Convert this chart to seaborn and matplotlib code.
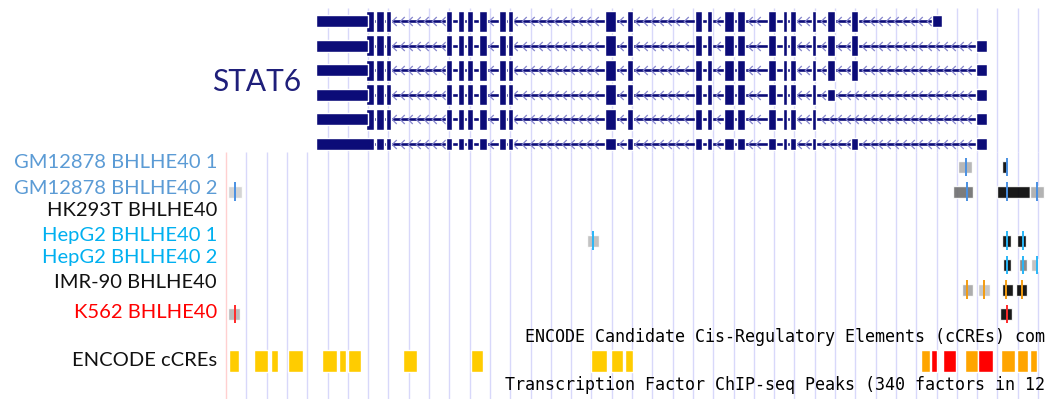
import numpy as np
import pandas as pd
import matplotlib
matplotlib.use("Agg")
import matplotlib.pyplot as plt
from matplotlib.path import Path
import seaborn as sns

# ---- data (x in track pixels) ----
tx_start = [317, 317, 317, 317, 317, 317]
tx_end = [941, 986, 986, 986, 986, 986]

shared_exons = [(377, 383), (387, 390), (447, 451), (459, 463), (468, 472),
                (480, 486), (500, 505), (509, 512), (606, 615), (628, 632),
                (696, 701), (708, 711), (725, 733), (738, 744), (769, 775),
                (784, 786), (791, 795), (813, 815)]

tx_cds = [
    [(367, 373)] + shared_exons + [(828, 834), (852, 857)],
    [(367, 373)] + shared_exons + [(828, 834), (852, 857)],
    [(367, 373)] + shared_exons + [(828, 834), (852, 857)],
    [(367, 373)] + shared_exons,
    [(367, 373)] + shared_exons,
    [],
]
tx_utr = [
    [(317, 367), (933, 941)],
    [(317, 367), (977, 986)],
    [(317, 367), (977, 986)],
    [(317, 367), (828, 834), (977, 986)],
    [(317, 367), (977, 986)],
    [(317, 373)] + shared_exons + [(852, 857), (977, 986)],
]

track_labels = ["GM12878 BHLHE40 1", "GM12878 BHLHE40 2", "HK293T BHLHE40",
                "HepG2 BHLHE40 1", "HepG2 BHLHE40 2", "IMR-90 BHLHE40",
                "K562 BHLHE40"]
label_colors = ["#5b9bd5", "#5b9bd5", "#111111", "#00b0f0", "#00b0f0",
                "#111111", "#ff0000"]
summit_colors = ["#4a90e2", "#4a90e2", "#000000", "#29b6f6", "#29b6f6",
                 "#f39c12", "#ff2a2a"]

# peaks: track index, start, end, grey level, summit
peak_track = [0, 0, 1, 1, 1, 1, 3, 3, 3, 4, 4, 4, 5, 5, 5, 5, 6, 6]
peak_start = [958, 1002, 228, 953, 997, 1030, 587, 1002, 1017, 1003, 1019, 1031,
              962, 978, 1002, 1016, 228, 1000]
peak_end = [972, 1007, 242, 973, 1030, 1044, 599, 1011, 1026, 1011, 1027, 1038,
            973, 990, 1013, 1027, 240, 1012]
peak_shade = ["#b0b0b0", "#000000", "#d0d0d0", "#6e6e6e", "#000000", "#ababab",
              "#bcbcbc", "#000000", "#000000", "#000000", "#808080", "#bcbcbc",
              "#a4a4a4", "#c4c4c4", "#000000", "#000000", "#b4b4b4", "#000000"]
peak_summit = [966, 1007, 235, 967, 1007, 1037, 593, 1007, 1023, 1007, 1023, 1037,
               967, 984, 1006, 1022, 235, 1007]

ccre_start = [229, 254, 271, 288, 322, 339, 348, 403, 471, 591, 611, 625,
              921, 931, 943, 965, 978, 1001, 1017, 1030]
ccre_end = [239, 268, 278, 303, 337, 346, 361, 417, 483, 607, 623, 633,
            930, 937, 956, 978, 993, 1015, 1028, 1037]
ccre_class = ["dELS"] * 12 + ["pELS", "PLS", "PLS", "pELS", "PLS",
                              "pELS", "pELS", "pELS"]
ccre_colors = {"dELS": "#ffcc00", "pELS": "#ffa500", "PLS": "#ff0000"}

# ---- layout ----
navy = "#0c0c78"
gene_y0, gene_dy = 21, 24.5
track_y0, track_dy = 167, 24.5
label_y = [162, 188, 210, 236, 258, 283, 312]
ccre_y = 361
pad = 0.7  # the screenshot is slightly blurred, blocks look a bit wider

sns.set_theme(style="white")
plt.rcParams["font.family"] = ["Lato", "DejaVu Sans"]

fig = plt.figure(figsize=(10.56, 3.99), dpi=100)
ax = fig.add_axes([0, 0, 1, 1])
ax.set_xlim(0, 1056)
ax.set_ylim(399, 0)
ax.axis("off")

# browser grid
grid_x = 226 + 20.3 * np.arange(41)
ax.vlines(grid_x[grid_x > 318], 8, 152, color="#d8d8fa", lw=1.0, zorder=0)
ax.vlines(grid_x[1:], 152, 399, color="#d8d8fa", lw=1.0, zorder=0)
ax.vlines(grid_x[0], 152, 399, color="#ffd0d0", lw=1.0, zorder=0)

# gene models
chev = Path([(0.5, 1), (-0.5, 0), (0.5, -1)],
            [Path.MOVETO, Path.LINETO, Path.LINETO])
for i in range(6):
    y = gene_y0 + gene_dy * i
    ax.hlines(y, tx_start[i], tx_end[i], color=navy, lw=1.9, zorder=2)
    blocks = tx_cds[i] + tx_utr[i]
    cx = np.arange(tx_start[i] + 4, tx_end[i] - 4, 8.1)
    keep = [x for x in cx if all(not (s - 3 <= x <= e + 3) for s, e in blocks)]
    ax.plot(keep, [y] * len(keep), ls="none", marker=chev, ms=6.5, mew=0.9,
            mfc="none", mec="#8484cc", zorder=2.5)
    if tx_cds[i]:
        ax.broken_barh([(s - pad, e - s + 2 * pad) for s, e in tx_cds[i]],
                       (y - 10.5, 21), facecolors=navy, zorder=3)
    ax.broken_barh([(s - pad, e - s + 2 * pad) for s, e in tx_utr[i]],
                   (y - 6, 12), facecolors=navy, zorder=3)

ax.text(257, 82, "STAT6", color="#1f1f7a", fontsize=21.5, ha="center", va="center")

# ChIP-seq peak tracks
for t, lab in enumerate(track_labels):
    ax.text(217, label_y[t], lab, color=label_colors[t], fontsize=14.5,
            ha="right", va="center")

for t, s, e, c in zip(peak_track, peak_start, peak_end, peak_shade):
    y = track_y0 + track_dy * t
    ax.broken_barh([(s, e - s)], (y - 6, 12), facecolors=c, alpha=0.9, zorder=3)

summits = pd.DataFrame({
    "x": peak_summit,
    "y": [track_y0 + track_dy * t for t in peak_track],
    "cell": [str(t) for t in peak_track],
})
sns.scatterplot(data=summits, x="x", y="y", hue="cell",
                palette={str(t): summit_colors[t] for t in range(7)},
                marker="|", s=170, linewidth=1.4, legend=False, ax=ax, zorder=4)

# cCREs
ax.text(217, ccre_y, "ENCODE cCREs", color="#111111", fontsize=14.5,
        ha="right", va="center")
for s, e, k in zip(ccre_start, ccre_end, ccre_class):
    ax.broken_barh([(s, e - s)], (ccre_y - 11, 22), facecolors=ccre_colors[k],
                   zorder=3)

ax.text(525, 337, "ENCODE Candidate Cis-Regulatory Elements (cCREs) com",
        family="DejaVu Sans Mono", fontsize=12, color="#000000", va="center")
ax.text(505, 385, "Transcription Factor ChIP-seq Peaks (340 factors in 12",
        family="DejaVu Sans Mono", fontsize=12, color="#000000", va="center")

fig.savefig("out.png", dpi=100)
